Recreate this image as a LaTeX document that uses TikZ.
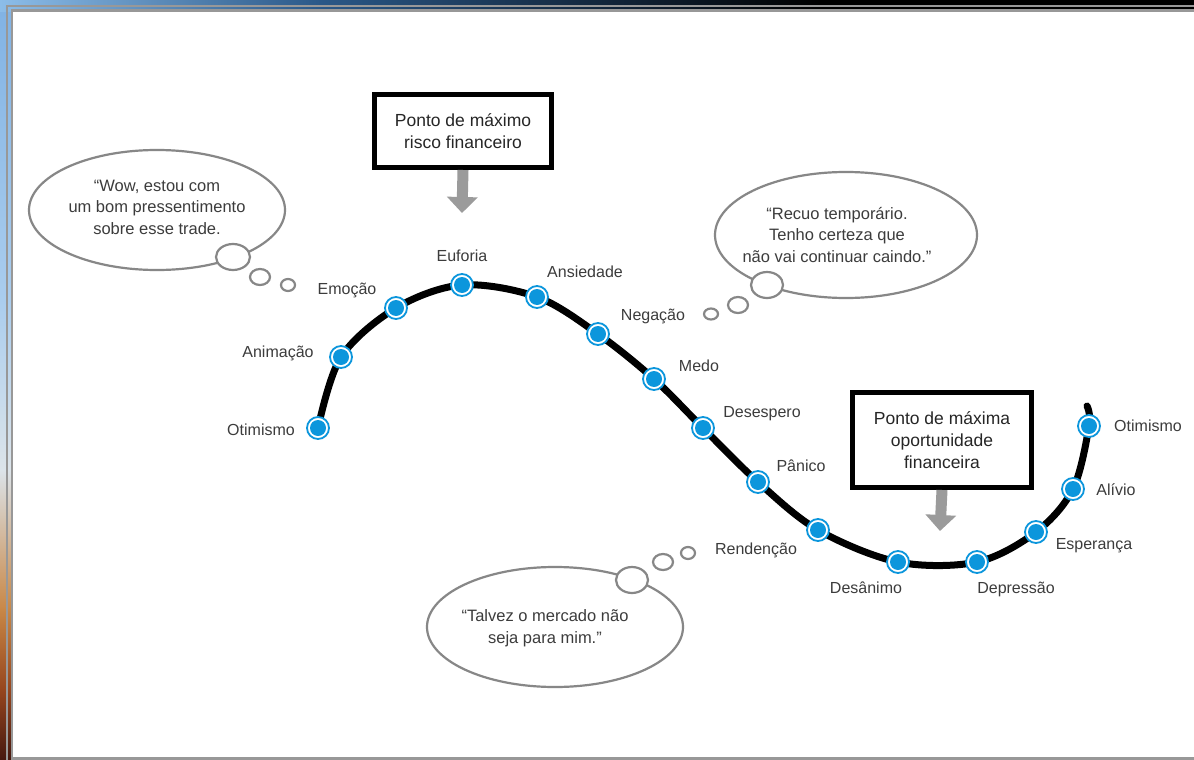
\documentclass[tikz,border=0pt]{standalone}
\usepackage{fontspec}
\setmainfont{Liberation Sans}
\usetikzlibrary{arrows.meta,shapes.geometric}
\definecolor{dotblue}{RGB}{12,150,220}
\definecolor{framegray}{RGB}{152,152,152}
\definecolor{bubblegray}{RGB}{135,135,135}
\definecolor{arrowgray}{RGB}{155,155,155}
\definecolor{labeltext}{RGB}{60,60,60}
\definecolor{bgA}{RGB}{128,178,228}
\definecolor{bgB}{RGB}{170,205,238}
\definecolor{bgC}{RGB}{220,228,234}
\definecolor{bgD}{RGB}{200,135,70}
\definecolor{bgE}{RGB}{150,70,30}
\definecolor{bgF}{RGB}{70,24,16}
\definecolor{topA}{RGB}{140,189,233}
\definecolor{topB}{RGB}{42,88,136}
\tikzset{
  dotnode/.style={circle, draw=dotblue, line width=1.8pt, fill=white, minimum size=22pt, inner sep=0pt,
    path picture={\fill[dotblue] (path picture bounding box.center) circle (8);}},
  lbl/.style={font=\fontsize{16}{19}\selectfont, text=labeltext, inner sep=0pt, text height=11.5pt, text depth=0pt},
  riskbox/.style={draw=black, line width=5pt, fill=white, align=center, inner sep=0pt,
    font=\fontsize{17.5}{22}\selectfont, text=black!85},
  garrow/.style={draw=arrowgray, line width=11pt, -{Triangle[width=30pt,length=16pt]}},
  bubble/.style={ellipse, draw=bubblegray, line width=2.2pt, fill=white, inner sep=0pt},
  btext/.style={align=center, font=\fontsize{16.5}{21.5}\selectfont, text=labeltext, inner sep=0pt},
  curveline/.style={line width=7pt, line cap=round}
}
\begin{document}
\begin{tikzpicture}[x=1pt,y=-1pt]
\useasboundingbox (0,0) rectangle (1194,760);
% window background
\shade[top color=bgA, bottom color=bgB] (0,0) rectangle (14,300);
\shade[top color=bgB, bottom color=bgC] (0,299.5) rectangle (14,470);
\shade[top color=bgC, bottom color=bgD] (0,469.5) rectangle (14,610);
\shade[top color=bgD, bottom color=bgE] (0,609.5) rectangle (14,690);
\shade[top color=bgE, bottom color=bgF] (0,689.5) rectangle (14,760);
\shade[left color=topA, right color=topB] (0,0) rectangle (320,12);
\shade[left color=topB, right color=black] (319.5,0) rectangle (820,12);
\fill[black] (819.5,0) rectangle (1194,12);
\draw[framegray, line width=2pt] (6.7,770) -- (6.7,6) -- (1200,6);
\draw[framegray, line width=2.6pt, fill=white] (12,10.5) rectangle (1204,758.5);

% thought bubbles
\node[bubble, minimum width=256pt, minimum height=120pt] (e1) at (157,210) {};
\node[bubble, minimum width=34pt, minimum height=26pt] (e1a) at (233,257) {};
\node[bubble, minimum width=20pt, minimum height=16pt] (e1b) at (260,277) {};
\node[bubble, minimum width=14pt, minimum height=12pt] (e1c) at (288,285) {};
\node[btext] (t1) at (157,207) {“Wow, estou com\\um bom pressentimento\\sobre esse trade.};

\node[bubble, minimum width=262pt, minimum height=126pt] (e2) at (846,235) {};
\node[bubble, minimum width=32pt, minimum height=26pt] (e2a) at (767,285) {};
\node[bubble, minimum width=20pt, minimum height=16pt] (e2b) at (738,305) {};
\node[bubble, minimum width=14pt, minimum height=11pt] (e2c) at (711,314) {};
\node[btext] (t2) at (837,235) {“Recuo temporário.\\Tenho certeza que\\não vai continuar caindo.”};

\node[bubble, minimum width=256pt, minimum height=120pt] (e3) at (555,627) {};
\node[bubble, minimum width=32pt, minimum height=26pt] (e3a) at (632,580) {};
\node[bubble, minimum width=20pt, minimum height=16pt] (e3b) at (663,562) {};
\node[bubble, minimum width=14pt, minimum height=12pt] (e3c) at (688,553) {};
\node[btext] (t3) at (545,628) {“Talvez o mercado não\\seja para mim.”};

% boxes and arrows
\coordinate (a1tip) at (462,213);
\coordinate (a2tip) at (940,531);
\node[riskbox, minimum width=177pt, minimum height=73pt] (b1) at (463,131) {Ponto de máximo\\risco financeiro};
\node[riskbox, minimum width=179pt, minimum height=95pt] (b2) at (942,440) {Ponto de máxima\\oportunidade\\financeira};
\draw[garrow] (b1.south) -- (a1tip);
\draw[garrow] (b2.south) -- (a2tip);

% curve points
\coordinate (p1) at (318,428);
\coordinate (p2) at (341,357);
\coordinate (p3) at (396,308);
\coordinate (p4) at (462,285);
\coordinate (p5) at (537,297);
\coordinate (p6) at (598,334);
\coordinate (p7) at (654,379);
\coordinate (p8) at (703,428);
\coordinate (p9) at (758,482);
\coordinate (p10) at (818,530);
\coordinate (p11) at (898,562);
\coordinate (p12) at (977,562);
\coordinate (p13) at (1036,532);
\coordinate (p14) at (1073,489);
\coordinate (p15) at (1089,426);
\coordinate (pend) at (1087,406);
\draw[curveline] plot[smooth, tension=0.55] coordinates {(p1) (p2) (p3) (p4) (p5) (p6) (p7) (p8) (p9) (p10) (p11) (p12) (p13) (p14) (p15) (pend)};

\foreach \i in {1,...,15}{ \node[dotnode] (d\i) at (p\i) {}; }

% labels
\node[lbl] (l1) at (261,430) {Otimismo};
\node[lbl] (l2) at (278,352) {Animação};
\node[lbl] (l3) at (347,289) {Emoção};
\node[lbl] (l4) at (462,256) {Euforia};
\node[lbl] (l5) at (585,272) {Ansiedade};
\node[lbl] (l6) at (653,315) {Negação};
\node[lbl] (l7) at (699,366) {Medo};
\node[lbl] (l8) at (762,412) {Desespero};
\node[lbl] (l9) at (801,466) {Pânico};
\node[lbl] (l10) at (756,549) {Rendenção};
\node[lbl] (l11) at (866,588) {Desânimo};
\node[lbl] (l12) at (1016,588) {Depressão};
\node[lbl] (l13) at (1094,544) {Esperança};
\node[lbl] (l14) at (1116,490) {Alívio};
\node[lbl] (l15) at (1148,426) {Otimismo};
\end{tikzpicture}
\end{document}
